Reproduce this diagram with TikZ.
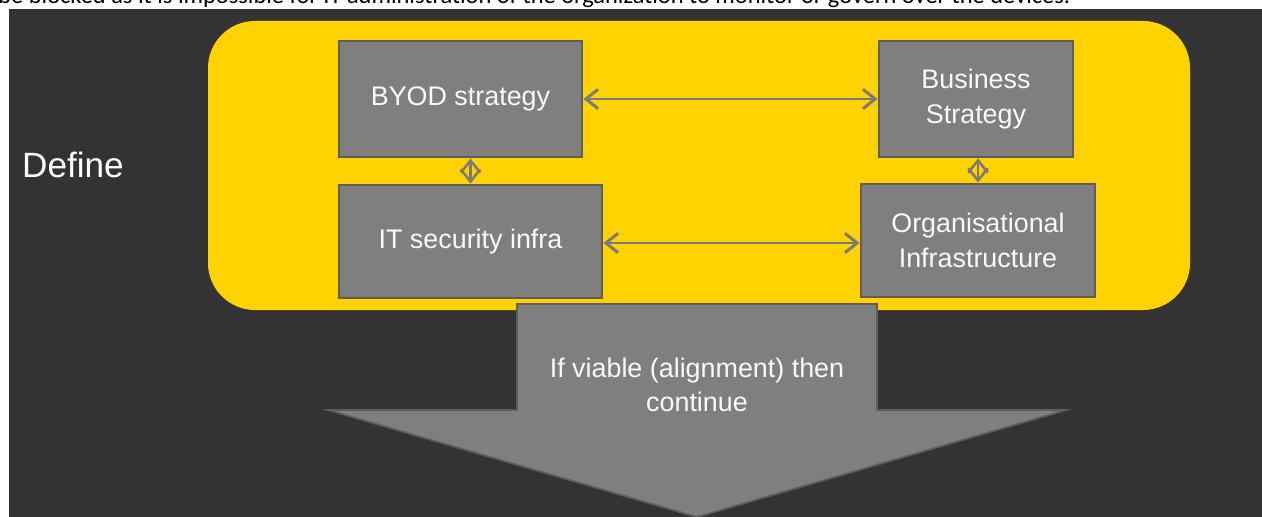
\documentclass[tikz,border=0pt]{standalone}
\usepackage{fontspec}
\setmainfont{Liberation Sans}
\newfontfamily\notefont{Carlito}
\usepackage{xcolor}
\usetikzlibrary{arrows.meta, positioning, calc}

\definecolor{bgdark}{HTML}{333333}
\definecolor{defyellow}{HTML}{FFD200}
\definecolor{boxgray}{HTML}{7F7F7F}
\definecolor{boxedge}{HTML}{5E5E5E}
\definecolor{linkgray}{HTML}{7A7A7A}

\begin{document}
\begin{tikzpicture}[
        x=0.02cm, y=-0.02cm,
        >={Straight Barb[length=7pt, width=11pt]},
        box/.style={rectangle, draw=boxedge, fill=boxgray, line width=1.6pt, text=white!95!gray, align=center, font=\fontsize{15.3}{19.5}\selectfont},
        line/.style={draw=linkgray, line width=1.7pt, <->},
        tieline/.style={draw=linkgray, line width=1.4pt, {Straight Barb[length=7pt, width=11pt]}-{Straight Barb[length=7pt, width=11pt]}}
    ]
        \useasboundingbox (0,0) rectangle (1262,517);

        % Page background and cut-off text line above
        \fill[bgdark] (9,9) rectangle (1262,517);
        \begin{scope}
            \clip (0,0) rectangle (1262,9);
            \node[anchor=base west, inner sep=0pt, font=\notefont\fontsize{13.9}{16}\selectfont] (prevline) at (-2,3.5) {be blocked as it is impossible for IT administration of the organization to monitor or govern over the devices.};
        \end{scope}

        % Define stage
        \fill[defyellow, rounded corners=0.94cm] (208,21) rectangle (1190,310);
        \node[anchor=west, text=white, font=\fontsize{20}{24}\selectfont] (define) at (16,165) {Define};

        % Boxes
        \node [box, minimum width=4.86cm, minimum height=2.32cm] (byod) at (460.5,99) {BYOD strategy};
        \node [box, minimum width=3.88cm, minimum height=2.32cm] (business) at (976,99) {Business\\Strategy};
        \node [box, minimum width=5.26cm, minimum height=2.26cm] (itsec) at (470.5,241.5) {IT security infra};
        \node [box, minimum width=4.68cm, minimum height=2.26cm] (orginfra) at (978,240.5) {Organisational\\Infrastructure};

        % Paths
        \path [line] (byod.east) -- (byod.east -| business.west);
        \path [line] ($(itsec.east)+(0,1.5)$) -- ($(itsec.east -| orginfra.west)+(0,1.5)$);
        \path [tieline] (itsec.north |- byod.south) -- (itsec.north);
        \path [tieline] (orginfra.north |- business.south) -- (orginfra.north);

        % Continue arrow
        \filldraw[fill=boxgray, draw=boxedge, line width=1pt] (517,304) -- (877,304) -- (877,410) -- (1066,410) -- (697,517) -- (328,410) -- (517,410) -- cycle;
        \node[align=center, text=white!95!gray, font=\fontsize{15.3}{19.5}\selectfont] (viable) at (697,385) {If viable (alignment) then\\continue};
\end{tikzpicture}
\end{document}
